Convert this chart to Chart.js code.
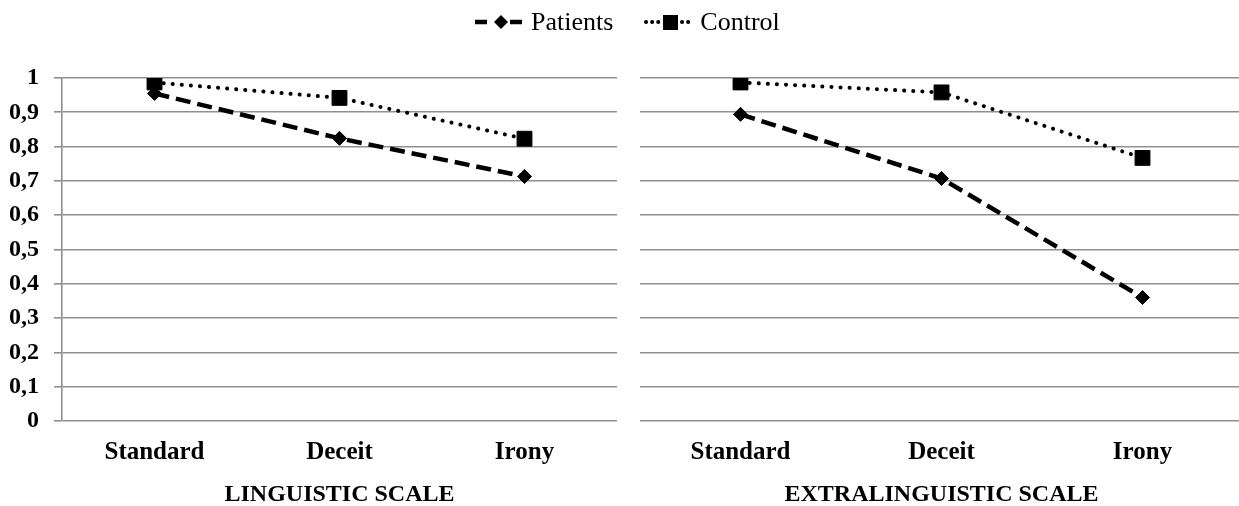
<!DOCTYPE html>
<html>
<head>
<meta charset="utf-8">
<script src="https://cdn.jsdelivr.net/npm/chart.js@4.4.1/dist/chart.umd.min.js"></script>
<style>
  html, body { margin: 0; padding: 0; background: #fff; overflow: hidden; }
  body { width: 1239px; height: 506px; position: relative; font-family: "Liberation Serif", "Times New Roman", serif; }
  #leftChart { position: absolute; left: 0; top: 0; }
  #rightChart { position: absolute; left: 640px; top: 0; }
  .legend { position: absolute; top: 8px; left: 475px; display: flex; align-items: center; font-size: 26px; color: #000; height: 28px; }
  .legend svg { display: block; }
  .legend .label { margin-left: 8px; margin-right: 31px; line-height: 28px; }
</style>
</head>
<body>
<canvas id="leftChart" width="620" height="506"></canvas>
<canvas id="rightChart" width="606" height="506"></canvas>

<div class="legend">
  <svg width="48" height="24">
    <line x1="0" y1="12" x2="12" y2="12" stroke="#000" stroke-width="4.5"/>
    <polygon points="26,5 33,12 26,19 19,12" fill="#000"/>
    <line x1="35" y1="12" x2="47" y2="12" stroke="#000" stroke-width="4.5"/>
  </svg>
  <span class="label">Patients</span>
  <svg width="48" height="24">
    <line x1="2" y1="12" x2="16" y2="12" stroke="#000" stroke-width="4" stroke-linecap="round" stroke-dasharray="0.1 6"/>
    <rect x="19" y="5" width="15" height="15" fill="#000"/>
    <line x1="38" y1="12" x2="48" y2="12" stroke="#000" stroke-width="4" stroke-linecap="round" stroke-dasharray="0.1 6"/>
  </svg>
  <span class="label" style="margin-right:0">Control</span>
</div>

<script>
const categories = ["Standard", "Deceit", "Irony"];

const linguisticPatients = [0.955, 0.824, 0.713];
const linguisticControl = [0.987, 0.942, 0.823];

const extraPatients = [0.894, 0.707, 0.36];
const extraControl = [0.987, 0.958, 0.767];

const yTicks = [0, 0.1, 0.2, 0.3, 0.4, 0.5, 0.6, 0.7, 0.8, 0.9, 1];

const gridColor = "#8f8f8f";
const serif = '"Liberation Serif", "Times New Roman", serif';

Chart.defaults.font.family = serif;
Chart.defaults.color = "#000";

function tickLabel(value) {
  if (value === 0 || value === 1) return String(value);
  return value.toFixed(1).replace(".", ",");
}

function makeDatasets(patients, control) {
  return [
    {
      label: "Patients",
      data: patients,
      borderColor: "#000",
      backgroundColor: "#000",
      borderWidth: 4.5,
      borderDash: [15, 7],
      pointStyle: "rectRot",
      pointRadius: 7,
      pointBorderWidth: 1,
      pointBackgroundColor: "#000",
      pointBorderColor: "#000",
      tension: 0
    },
    {
      label: "Control",
      data: control,
      borderColor: "#000",
      backgroundColor: "#000",
      borderWidth: 4,
      borderDash: [0.1, 9],
      borderCapStyle: "round",
      pointStyle: "rect",
      pointRadius: 10.5,
      pointBorderWidth: 1,
      pointBackgroundColor: "#000",
      pointBorderColor: "#000",
      tension: 0
    }
  ];
}

function makePanel(id, title, patients, control, showAxis) {
  const el = document.getElementById(id);
  return new Chart(el, {
    type: "line",
    data: {
      labels: categories,
      datasets: makeDatasets(patients, control)
    },
    options: {
      responsive: false,
      animation: false,
      layout: { autoPadding: false, padding: { top: 78, right: 3, left: 0, bottom: 0 } },
      plugins: {
        legend: { display: false },
        tooltip: { enabled: false }
      },
      scales: {
        x: {
          offset: true,
          grid: { display: false },
          border: { display: false },
          ticks: {
            padding: 9,
            font: { size: 25, weight: "bold" }
          },
          title: {
            display: true,
            text: title,
            padding: { top: 0, bottom: -1 },
            font: { size: 24, weight: "bold", lineHeight: 1 }
          },
          afterFit: (scale) => { scale.height = 85; }
        },
        y: {
          min: 0,
          max: 1,
          afterBuildTicks: (scale) => { scale.ticks = yTicks.map((v) => ({ value: v })); },
          grid: {
            color: gridColor,
            lineWidth: 1.6,
            drawTicks: showAxis,
            tickLength: 8
          },
          border: { display: showAxis, color: gridColor, width: 1.6 },
          ticks: {
            display: showAxis,
            padding: 15,
            font: { size: 24, weight: "bold" },
            callback: (value) => tickLabel(value)
          },
          afterFit: (scale) => { scale.width = showAxis ? 62 : 0; }
        }
      }
    }
  });
}

makePanel("leftChart", "LINGUISTIC SCALE", linguisticPatients, linguisticControl, true);
makePanel("rightChart", "EXTRALINGUISTIC SCALE", extraPatients, extraControl, false);
</script>
</body>
</html>
